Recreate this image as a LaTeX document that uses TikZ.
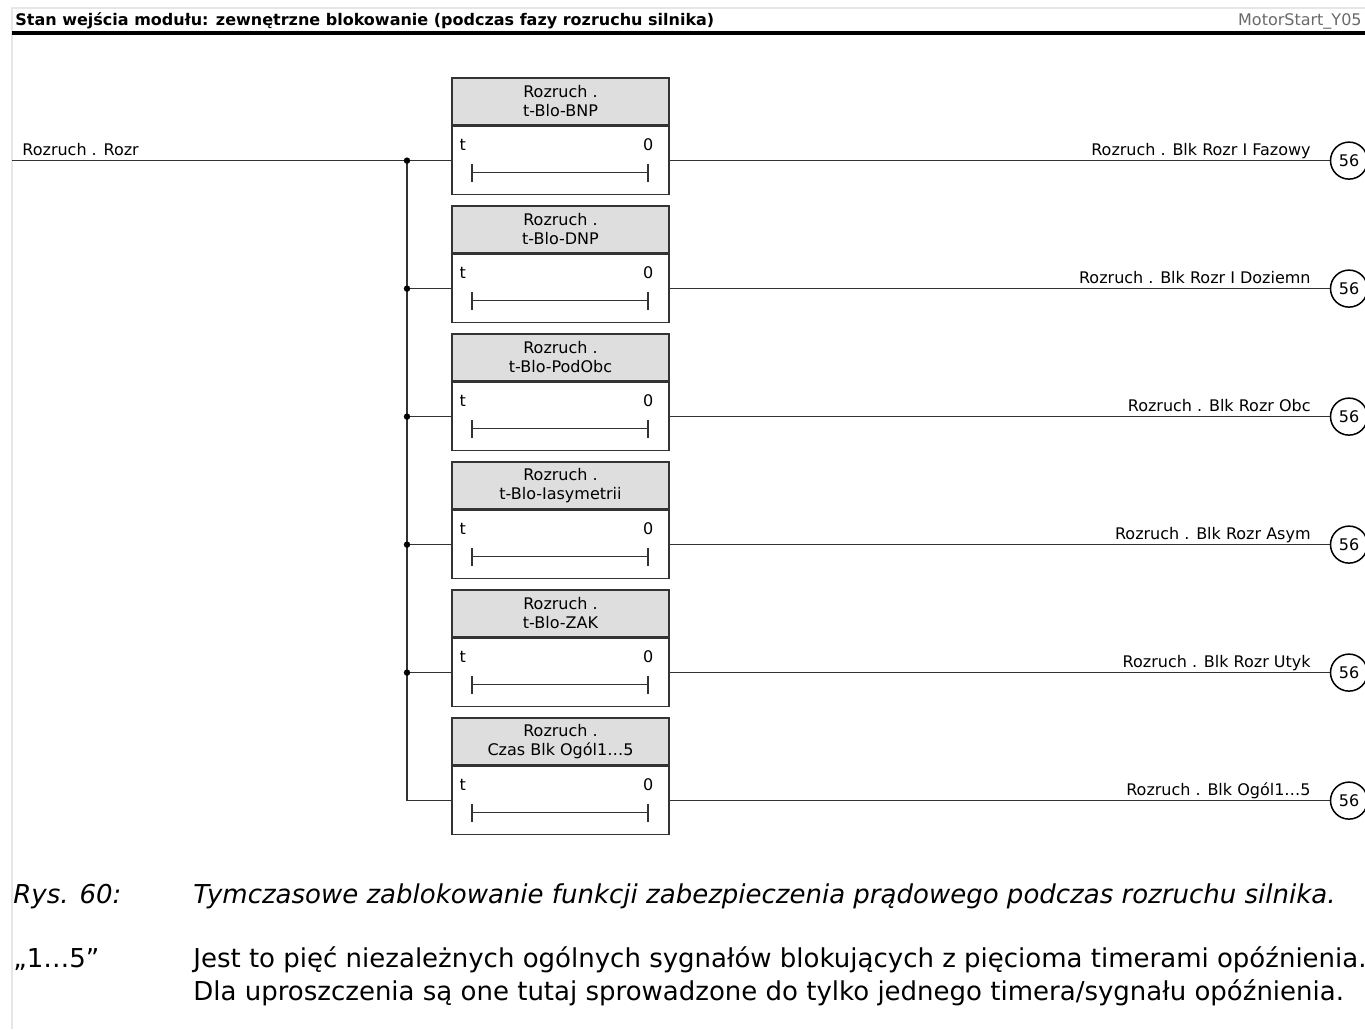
\documentclass[tikz,border=0pt]{standalone}
\usepackage{fontspec}
\setmainfont{DejaVu Sans}
\usetikzlibrary{arrows.meta,positioning,calc}
\definecolor{Wire}{HTML}{333333}
\definecolor{Head}{HTML}{DEDEDE}
\definecolor{Frame}{HTML}{E6E6E6}
\definecolor{Tag}{HTML}{6A6A6A}
\tikzset{lbl/.style={font=\fontsize{8}{9.5}\selectfont,text=black,inner sep=0pt},
  header/.style={lbl,draw=Wire,fill=Head,line width=0.8pt,minimum width=108.5pt,
    minimum height=23.5pt,align=center},
  timer/.style={draw=Wire,fill=white,line width=0.8pt,minimum width=108.5pt,
    minimum height=34pt,inner sep=0pt},
  wire/.style={draw=Wire,line width=0.75pt},
  junct/.style={circle,fill=black,inner sep=0pt,minimum size=3.2pt},
  pageref/.style={lbl,circle,draw=black,line width=0.75pt,minimum size=18.5pt},
  capt/.style={font=\fontsize{13}{16.5}\selectfont,inner sep=0pt,align=left}}

\begin{document}
\begin{tikzpicture}[x=0.5pt,y=-0.5pt]
  \useasboundingbox (0,0) rectangle (1365,1029);
  % page frame and title bar
  \draw[Frame,line width=0.9pt] (12,1029) -- (12,8) -- (1365,8);
  \node[anchor=base west,inner sep=0pt,font=\fontsize{8}{9.5}\selectfont\bfseries] (title)
    at (15,25) {Stan wejścia modułu: zewnętrzne blokowanie (podczas fazy rozruchu silnika)};
  \node[lbl,anchor=base east,text=Tag] (tag) at (1362,25) {MotorStart\_Y05};
  \draw[line width=1.6pt] (12,33) -- (1365,33);

  % input signal
  \coordinate (left) at (12,0);
  \coordinate (bus) at (407,0);
  \coordinate (refx) at (1349,0);
  \node[lbl,anchor=base west] (inlbl) at (22,155) {Rozruch . Rozr};

  \foreach \hd/\out [count=\i] in {t-Blo-BNP/Blk Rozr I Fazowy,
      t-Blo-DNP/Blk Rozr I Doziemn, t-Blo-PodObc/Blk Rozr Obc,
      t-Blo-Iasymetrii/Blk Rozr Asym, t-Blo-ZAK/Blk Rozr Utyk,
      Czas Blk Ogól1…5/Blk Ogól1…5}{
    \pgfmathsetmacro{\yb}{78+128*(\i-1)}
    \node[header] (hd\i) at (560.5,\yb+23.5) {Rozruch .\\\hd};
    \node[timer,below=0pt of hd\i] (tm\i) {};
    \node[lbl,anchor=base west] (t\i) at ($(tm\i.west)+(8,-10)$) {t};
    \node[lbl,anchor=base east] (z\i) at ($(tm\i.east)+(-16,-10)$) {0};
    \draw[wire,{Bar[width=9pt]}-{Bar[width=9pt]}]
      ($(tm\i.west)+(20,12)$) -- ($(tm\i.east)+(-21,12)$);
    \coordinate (j\i) at (bus |- tm\i.west);
    \draw[wire] (j\i) -- (tm\i.west);
    \node[pageref] (c\i) at (refx |- tm\i.east) {56};
    \draw[wire] (tm\i.east) -- (c\i.west);
    \node[lbl,anchor=base east] (o\i) at ($(1311,0 |- tm\i.east)+(0,-5)$) {Rozruch . \out};
  }
  \coordinate (in) at (left |- j1);
  \draw[wire] (in) -- (j1);
  \draw[wire] (j1) -- (j6);
  \foreach \i in {1,...,5} \node[junct] at (j\i) {};

  % caption
  \node[capt,anchor=base west] (rys) at (13,903) {\itshape Rys. 60:};
  \node[capt,anchor=base west] (rystxt) at (193,903)
    {\itshape Tymczasowe zablokowanie funkcji zabezpieczenia prądowego podczas rozruchu silnika.};
  \node[capt,anchor=base west] (note) at (13,967) {„1…5”};
  \node[capt,anchor=base west] (notetxt) at (193,1000)
    {Jest to pięć niezależnych ogólnych sygnałów blokujących z pięcioma timerami opóźnienia.\\
     Dla uproszczenia są one tutaj sprowadzone do tylko jednego timera/sygnału opóźnienia.};
\end{tikzpicture}
\end{document}
